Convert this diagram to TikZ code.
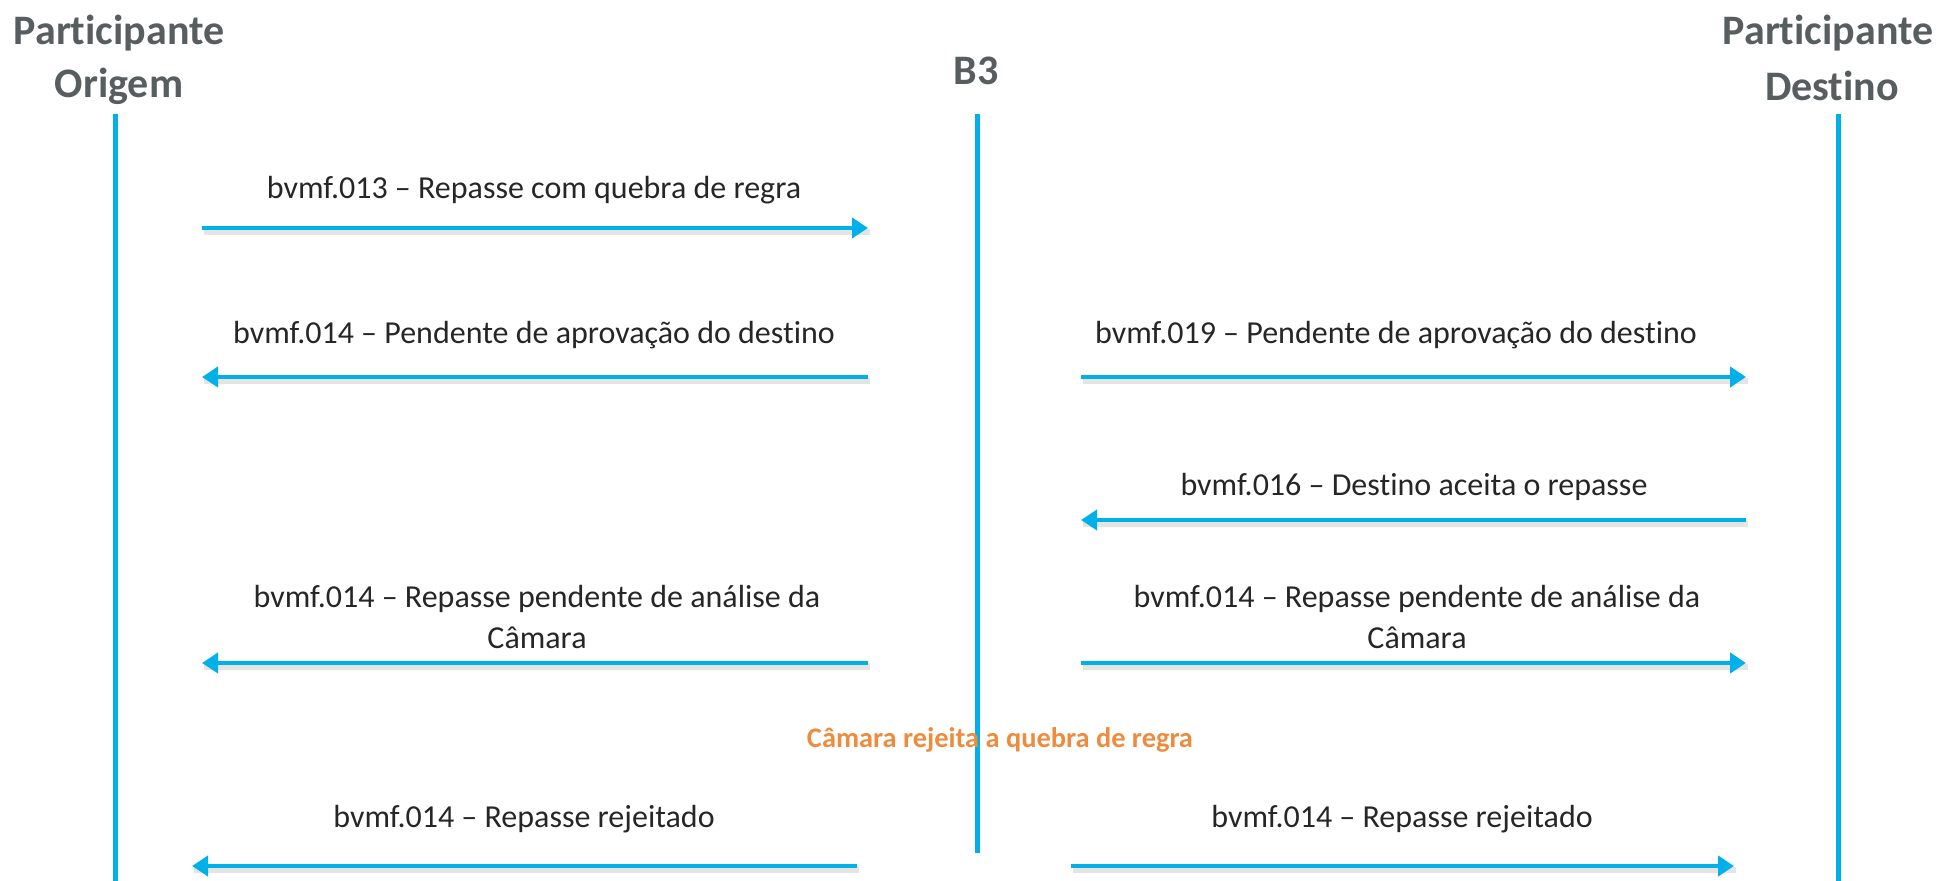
\documentclass[tikz,border=0pt]{standalone}
\usepackage{fontspec}
\setmainfont{Carlito}[Ligatures={NoCommon}]
\usetikzlibrary{arrows.meta}
\definecolor{lineblue}{RGB}{0,176,232}
\definecolor{headgray}{RGB}{88,94,96}
\definecolor{txtgray}{RGB}{38,38,38}
\definecolor{accent}{RGB}{237,140,62}
\tikzset{
  lifeline/.style={draw=lineblue, line width=2.5pt},
  msgline/.style={draw=lineblue, line width=2.25pt, -{Triangle[length=8pt,width=10pt]}},
  shadowline/.style={draw=black!35, opacity=0.3, line width=3pt},
  header/.style={text=headgray, font=\fontsize{21}{26.5}\selectfont\bfseries, align=center, inner sep=0pt},
  msglabel/.style={text=txtgray, font=\fontsize{16}{20.5}\selectfont, align=center, inner sep=0pt},
  notelabel/.style={text=accent, font=\fontsize{14.2}{17}\selectfont\bfseries, inner sep=0pt}
}
\begin{document}
\begin{tikzpicture}[x=0.5pt,y=-0.5pt]
\useasboundingbox (0,0) rectangle (1939,881);
% headers
\node[header] (hO) at (119,60) {Participante\\Origem};
\node[header] (hB) at (976,71) {B3};
\node[header] (hD1) at (1828,33) {Participante};
\node[header] (hD2) at (1832,86) {Destino};
% lifelines
\coordinate (oTop) at (115,114); \coordinate (oBot) at (115,881);
\coordinate (bTop) at (977,114); \coordinate (bBot) at (977,853);
\coordinate (dTop) at (1838,114); \coordinate (dBot) at (1838,881);
\draw[lifeline] (oTop) -- (oBot);
\draw[lifeline] (bTop) -- (bBot);
\draw[lifeline] (dTop) -- (dBot);
% message endpoints
\coordinate (l1) at (202,228); \coordinate (r1) at (868,228);
\coordinate (l2) at (202,377); \coordinate (r2) at (868,377);
\coordinate (l2b) at (1081,377); \coordinate (r2b) at (1746,377);
\coordinate (l3b) at (1081,520); \coordinate (r3b) at (1746,520);
\coordinate (l4) at (202,663); \coordinate (r4) at (868,663);
\coordinate (l4b) at (1081,663); \coordinate (r4b) at (1746,663);
\coordinate (l5) at (192,866); \coordinate (r5) at (857,866);
\coordinate (l5b) at (1071,866); \coordinate (r5b) at (1734,866);
% shadows
\foreach \a/\b in {l1/r1,l2/r2,l2b/r2b,l3b/r3b,l4/r4,l4b/r4b,l5/r5,l5b/r5b}{
  \draw[shadowline] ([shift={(2,4)}]\a) -- ([shift={(2,4)}]\b);
}
% messages
\draw[msgline] (l1) -- (r1);
\draw[msgline] (r2) -- (l2);
\draw[msgline] (l2b) -- (r2b);
\draw[msgline] (r3b) -- (l3b);
\draw[msgline] (r4) -- (l4);
\draw[msgline] (l4b) -- (r4b);
\draw[msgline] (r5) -- (l5);
\draw[msgline] (l5b) -- (r5b);
% labels
\node[msglabel] (t1) at (534,190) {bvmf.013 – Repasse com quebra de regra};
\node[msglabel] (t2) at (534,335) {bvmf.014 – Pendente de aprovação do destino};
\node[msglabel] (t2b) at (1396,335) {bvmf.019 – Pendente de aprovação do destino};
\node[msglabel] (t3b) at (1414,487) {bvmf.016 – Destino aceita o repasse};
\node[msglabel] (t4) at (537,617.5) {bvmf.014 – Repasse pendente de análise da\\Câmara};
\node[msglabel] (t4b) at (1417,617.5) {bvmf.014 – Repasse pendente de análise da\\Câmara};
\node[notelabel] (note) at (1000,740) {Câmara rejeita a quebra de regra};
\node[msglabel] (t5) at (524,819) {bvmf.014 – Repasse rejeitado};
\node[msglabel] (t5b) at (1402,819) {bvmf.014 – Repasse rejeitado};
\end{tikzpicture}
\end{document}
